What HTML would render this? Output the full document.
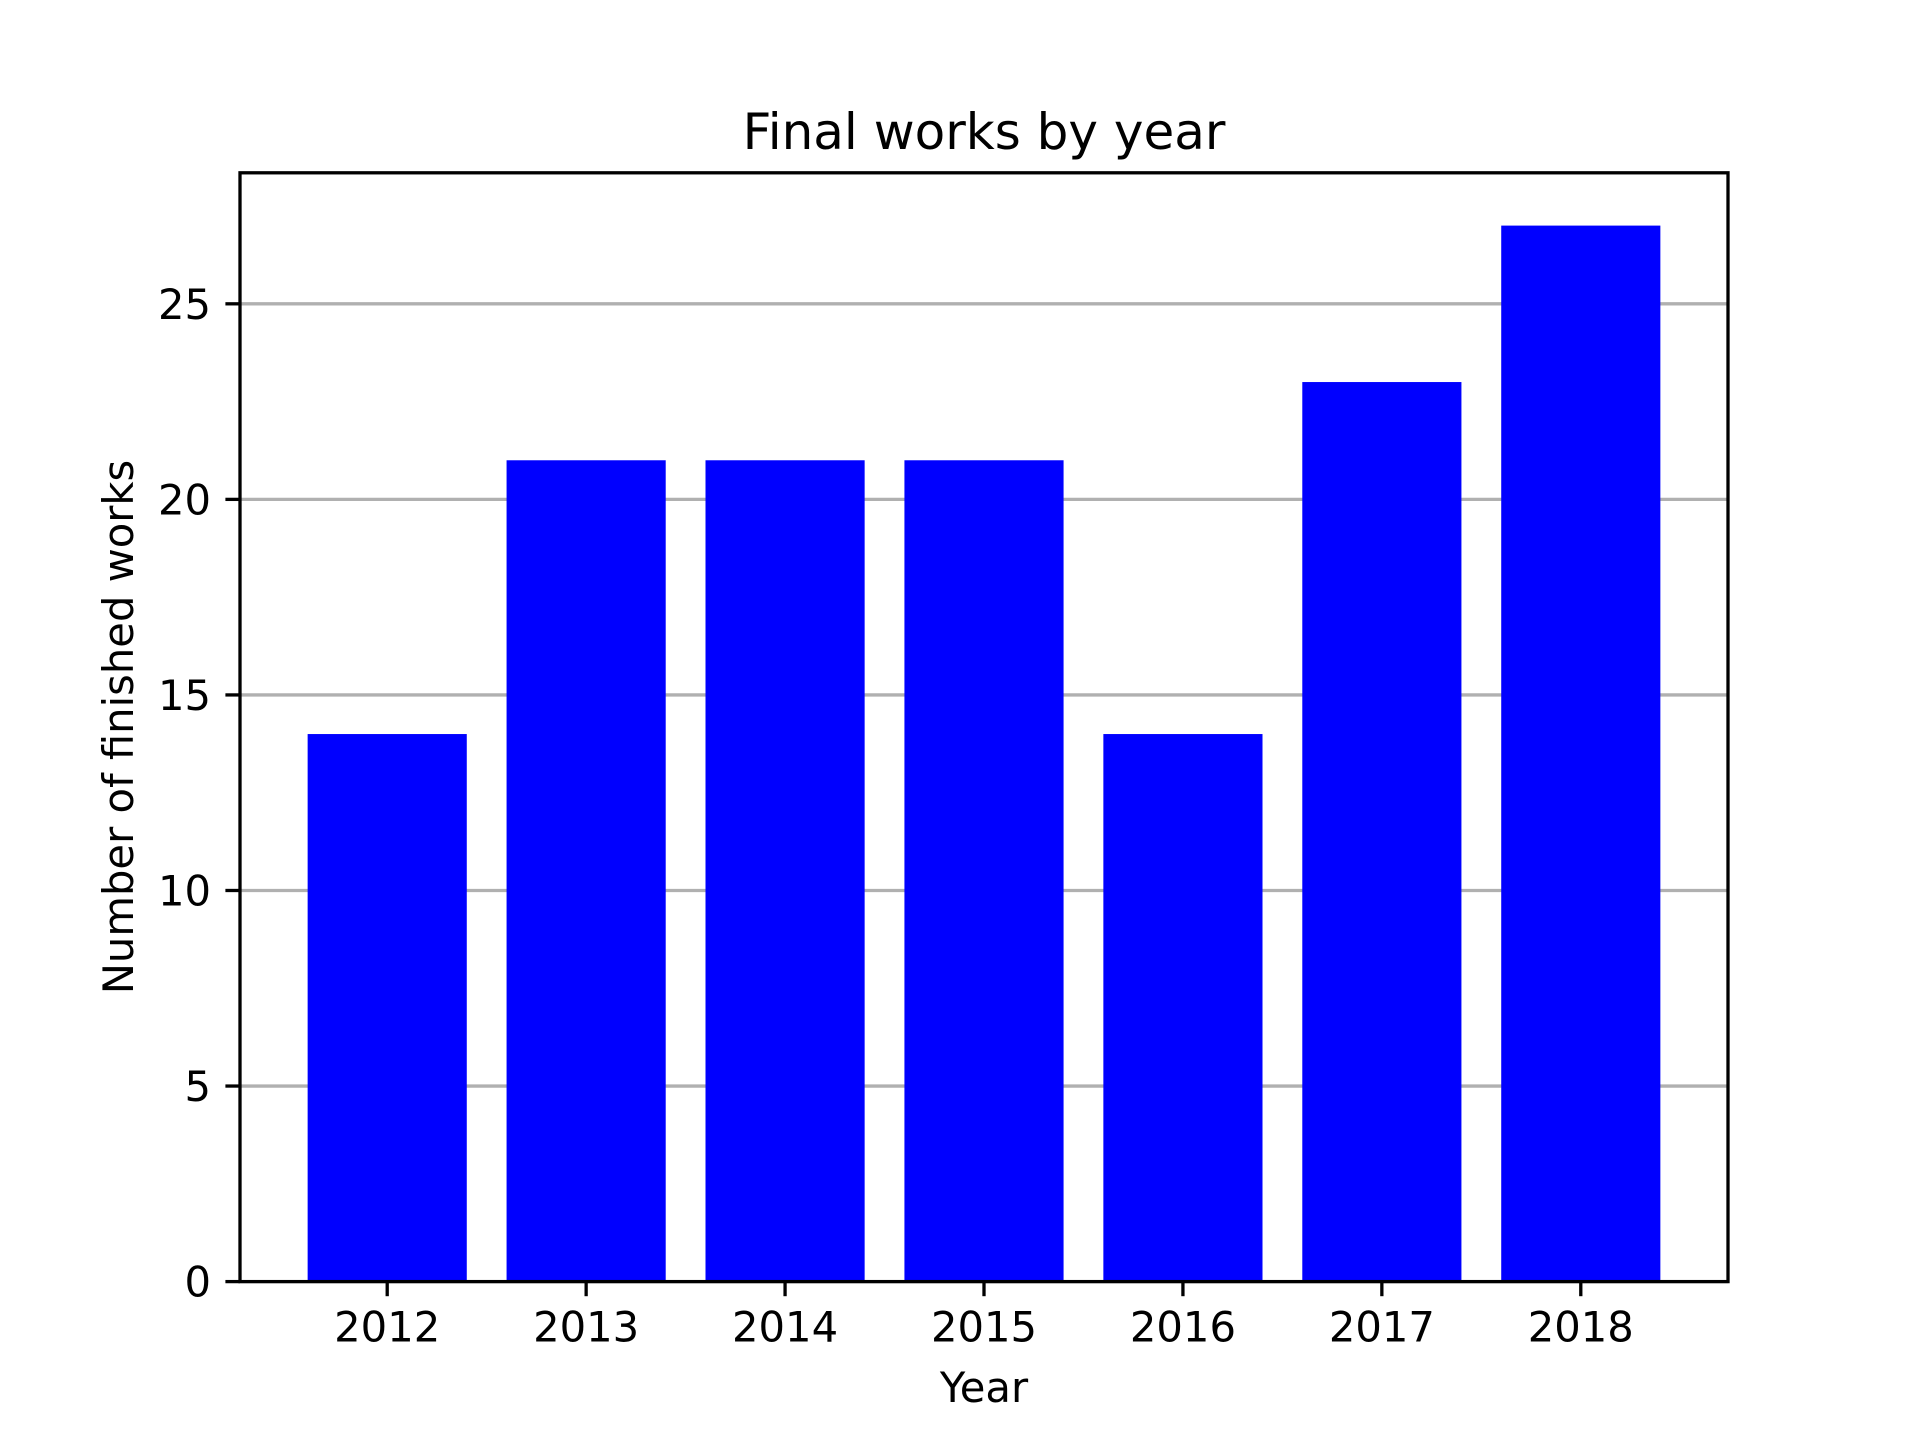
<!DOCTYPE html>
<html><head><meta charset="utf-8"><style>
html,body{margin:0;padding:0;background:#fff;}
svg{display:block;font-family:"DejaVu Sans","Liberation Sans",sans-serif;}
</style></head><body>
<svg id="chart" width="1920" height="1440" viewBox="0 0 1920 1440" xmlns="http://www.w3.org/2000/svg">
<rect width="1920" height="1440" fill="#fff"/>
<text x="984" y="149" font-size="50" text-anchor="middle">Final works by year</text>
<text x="984" y="1402" font-size="41.7" text-anchor="middle">Year</text>
<text transform="translate(133,727) rotate(-90)" font-size="41.7" text-anchor="middle">Number of finished works</text>
<g id="grid"></g><g id="bars"></g><g id="axes"></g>
</svg>
<script>
const categories = ["2012","2013","2014","2015","2016","2017","2018"];
const values = [14,21,21,21,14,23,27];
const yTicks = [0,5,10,15,20,25];
const L=240,R=1728,T=172.8,B=1281.6;
const ymax=Math.max(...values)*1.05;
const xmin=-0.74, xmax=categories.length-1+0.74;
const sx=v=>L+(v-xmin)/(xmax-xmin)*(R-L);
const sy=v=>B-v/ymax*(B-T);
const NS="http://www.w3.org/2000/svg";
function mk(tag,attrs,parent){const e=document.createElementNS(NS,tag);for(const k in attrs)e.setAttribute(k,attrs[k]);parent.appendChild(e);return e;}
const grid=document.getElementById('grid'),bars=document.getElementById('bars'),axes=document.getElementById('axes');
yTicks.forEach(t=>{
  const y=sy(t);
  const g=mk('line',{x1:L,x2:R,y1:y,y2:y,stroke:'#b0b0b0','stroke-width':3.3},grid);
  
  
  const tk=mk('line',{x1:L-14.6,x2:L,y1:y,y2:y,stroke:'#000','stroke-width':3.3},axes);
  
  
  const tx=mk('text',{x:L-29,y:y+15,'font-size':41.7,'text-anchor':'end'},axes);
  tx.textContent=t;
  
  
});
categories.forEach((c,i)=>{
  const x0=sx(i-0.4),x1=sx(i+0.4);
  const b=mk('rect',{x:x0,y:sy(values[i]),width:x1-x0,height:sy(0)-sy(values[i]),fill:'#0000ff'},bars);
  
  
  const cx=sx(i);
  const tk=mk('line',{x1:cx,x2:cx,y1:B,y2:B+14.6,stroke:'#000','stroke-width':3.3},axes);
  
  
  const tx=mk('text',{x:cx,y:B+60,'font-size':41.7,'text-anchor':'middle'},axes);
  tx.textContent=c;
  
  
});
const fr=mk('rect',{x:L,y:T,width:R-L,height:B-T,fill:'none',stroke:'#000','stroke-width':3.3},axes);


</script>
</body></html>
